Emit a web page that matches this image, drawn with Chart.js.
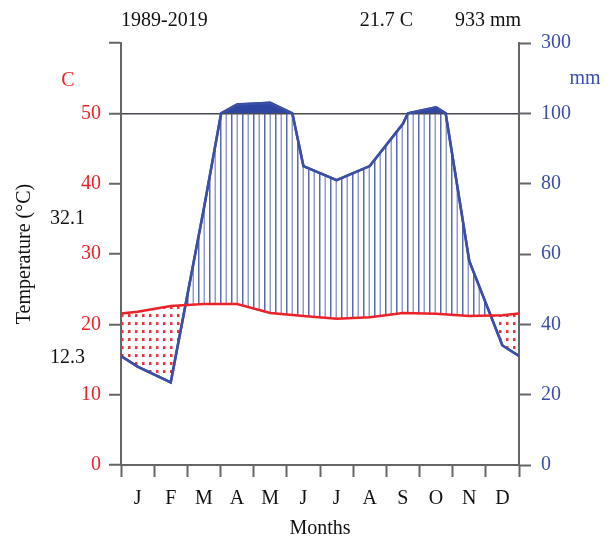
<!DOCTYPE html>
<html>
<head>
<meta charset="utf-8">
<script src="https://cdn.jsdelivr.net/npm/chart.js@4.4.0/dist/chart.umd.min.js"></script>
<style>
  body { margin: 0; background: #fff; }
  #wrap { width: 616px; height: 538px; }
</style>
</head>
<body>
<div id="wrap"><canvas id="climate" width="616" height="538"></canvas></div>
<script>
// monthly data
const months = ["J", "F", "M", "A", "M", "J", "J", "A", "S", "O", "N", "D"];
const temperature = [21.8, 22.6, 22.9, 22.9, 21.6, 21.2, 20.8, 21.0, 21.6, 21.5, 21.2, 21.3];
const precipitation = [28, 23.5, 73, 125, 130, 85, 81, 85, 97, 117, 58, 34];
const tempTicks = [0, 10, 20, 30, 40, 50];
const precTicks = [0, 20, 40, 60, 80, 100, 300];
const header = ["1989-2019", "21.7 C", "933 mm"];
const extremes = ["32.1", "12.3"];

const RED = "#ec2229";
const BLUE = "#3c4fa6";
const SOLID = "#2f46a0";
const AXIS = "#666666";
const FONT = "'Liberation Serif', 'DejaVu Serif', serif";

// mm -> temperature units (1/10 scale above 100 mm)
function mmToUnits(p) {
  return p <= 100 ? p / 2 : 50 + (p - 100) / 20;
}

// month centres plus the year wrap at both edges
function withEdges(values) {
  const edge = (values[0] + values[values.length - 1]) / 2;
  const pts = [{ x: 0, v: edge }];
  values.forEach((v, i) => pts.push({ x: i + 0.5, v: v }));
  pts.push({ x: 12, v: edge });
  return pts;
}

const tempSeries = withEdges(temperature).map(p => ({ x: p.x, y: p.v }));

// precipitation is linear in mm, so add the vertex where it crosses 100 mm
const precPts = withEdges(precipitation);
const precSeries = [];
precPts.forEach((p, i) => {
  if (i > 0) {
    const q = precPts[i - 1];
    if ((q.v - 100) * (p.v - 100) < 0) {
      const x = q.x + (100 - q.v) / (p.v - q.v) * (p.x - q.x);
      precSeries.push({ x: x, y: 50 });
    }
  }
  precSeries.push({ x: p.x, y: mmToUnits(p.v) });
});

function makeHatch() {
  const c = document.createElement("canvas");
  c.width = 11; c.height = 4;
  const g = c.getContext("2d");
  g.fillStyle = "rgba(60,78,165,0.85)";
  g.fillRect(0, 0, 1.5, 4);
  g.fillStyle = "rgba(60,78,165,0.55)";
  g.fillRect(5.5, 0, 1.5, 4);
  return g.createPattern(c, "repeat");
}

function makeDots() {
  const c = document.createElement("canvas");
  c.width = 7; c.height = 8;
  const g = c.getContext("2d");
  g.fillStyle = "rgba(232,40,50,0.95)";
  g.fillRect(2, 2, 2.5, 3);
  return g.createPattern(c, "repeat");
}

const textPlugin = {
  id: "diagramText",
  afterDraw(chart) {
    const ctx = chart.ctx;
    const a = chart.chartArea;
    ctx.save();
    ctx.font = "20px " + FONT;
    ctx.textBaseline = "middle";
    ctx.fillStyle = "#111";
    ctx.textAlign = "left";
    ctx.fillText(header[0], a.left, 21);
    ctx.textAlign = "right";
    ctx.fillText(header[1], 413, 21);
    ctx.fillText(header[2], a.right + 2, 21);
    ctx.fillText(extremes[0], 85, 219);
    ctx.fillText(extremes[1], 85, 358);
    ctx.textAlign = "center";
    ctx.fillStyle = RED;
    ctx.fillText("C", 68, 81);
    ctx.fillStyle = BLUE;
    ctx.fillText("mm", 585, 79);
    ctx.restore();
  }
};

new Chart(document.getElementById("climate"), {
  type: "line",
  data: {
    datasets: [
      {
        label: "Temperature",
        data: tempSeries,
        borderColor: RED,
        borderWidth: 2.5,
        pointRadius: 0,
        fill: false
      },
      {
        label: "Precipitation > 100 mm",
        data: precSeries,
        borderColor: BLUE,
        borderWidth: 2.5,
        pointRadius: 0,
        fill: { target: { value: 50 }, above: SOLID, below: "rgba(0,0,0,0)" }
      },
      {
        label: "Precipitation",
        data: precSeries,
        borderColor: BLUE,
        borderWidth: 2.5,
        pointRadius: 0,
        fill: { target: 0, above: makeHatch(), below: makeDots() }
      }
    ]
  },
  options: {
    responsive: false,
    animation: false,
    devicePixelRatio: 1,
    layout: { padding: { top: 43, left: 0, right: 0, bottom: 0 } },
    plugins: { legend: { display: false }, tooltip: { enabled: false } },
    scales: {
      x: {
        type: "linear",
        min: 0,
        max: 12,
        afterBuildTicks: s => {
          const t = [];
          for (let i = 0; i <= 24; i++) t.push({ value: i / 2 });
          s.ticks = t;
        },
        afterFit: s => { s.height = 73; },
        ticks: {
          autoSkip: false,
          maxRotation: 0,
          padding: 10,
          color: "#111",
          font: { family: FONT, size: 20 },
          callback: v => (v % 1 ? months[Math.floor(v)] : "")
        },
        grid: {
          drawOnChartArea: false,
          tickLength: 12,
          tickWidth: 2,
          tickColor: c => (c.tick && c.tick.value % 1 ? "rgba(0,0,0,0)" : AXIS)
        },
        border: { color: AXIS, width: 2 },
        title: {
          display: true,
          text: "Months",
          color: "#111",
          font: { family: FONT, size: 20 },
          padding: { top: 0, bottom: -3 }
        }
      },
      y: {
        position: "left",
        min: 0,
        max: 60,
        afterBuildTicks: s => {
          s.ticks = tempTicks.concat([60]).map(v => ({ value: v }));
        },
        afterFit: s => { s.width = 121; },
        ticks: {
          padding: 8,
          color: RED,
          font: { family: FONT, size: 20 },
          callback: v => (tempTicks.includes(v) ? v : "")
        },
        grid: {
          color: c => (c.tick && c.tick.value === 50 ? "#4a4a4a" : "rgba(0,0,0,0)"),
          lineWidth: 1.5,
          tickLength: 12,
          tickWidth: 2,
          tickColor: AXIS
        },
        border: { color: AXIS, width: 2 },
        title: {
          display: true,
          text: "Temperature (°C)",
          color: "#111",
          font: { family: FONT, size: 20 },
          padding: { top: 13, bottom: 0 }
        }
      },
      y2: {
        position: "right",
        min: 0,
        max: 60,
        afterBuildTicks: s => {
          s.ticks = precTicks.map((v, i) => ({ value: i * 10 }));
        },
        afterFit: s => { s.width = 97; },
        ticks: {
          padding: 10,
          color: BLUE,
          font: { family: FONT, size: 20 },
          callback: v => precTicks[Math.round(v / 10)]
        },
        grid: {
          drawOnChartArea: false,
          tickLength: 12,
          tickWidth: 2,
          tickColor: AXIS
        },
        border: { color: AXIS, width: 2 }
      }
    }
  },
  plugins: [textPlugin]
});
</script>
</body>
</html>
